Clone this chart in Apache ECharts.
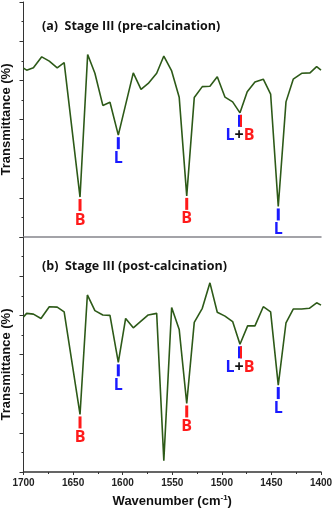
<!DOCTYPE html>
<html>
<head>
<meta charset="utf-8">
<script src="https://cdn.jsdelivr.net/npm/echarts@6/dist/echarts.min.js"></script>
<style>html,body{margin:0;padding:0;background:#fff;}#c{width:333px;height:511px;}</style>
</head>
<body>
<div id="c"></div>
<script>
// Panel (a) pre-calcination
const wnA = [1700,1696.8,1690,1681.6,1674,1666,1659,1643,1635.3,1628,1620,1612.8,1604.4,1589.3,1581.5,1574.2,1565.7,1558.5,1550.6,1543,1535.4,1527.8,1519.7,1512,1504.6,1496.8,1489.1,1481.7,1474.4,1466.6,1458.2,1450.8,1443.1,1435.3,1428,1419.5,1411.1,1404.4,1400];
const trA = [4.31,4.26,4.32,4.60,4.49,4.32,4.45,1.02,4.66,4.18,3.36,3.44,2.60,4.19,3.77,3.92,4.18,4.62,4.24,3.57,1.05,3.56,3.84,3.85,4.09,3.57,3.45,3.17,3.71,3.96,4.03,3.65,0.78,3.45,4.03,4.18,4.19,4.35,4.26];
// Panel (b) post-calcination
const wnB = [1700,1696.8,1690,1682.4,1674,1666,1659,1643,1635.6,1628,1620,1612.8,1604.4,1597,1589.3,1581.5,1574.2,1565.7,1558.5,1550.6,1543,1535.4,1527.8,1519.7,1512,1504.6,1496.8,1489.1,1481.7,1474,1466.6,1458.2,1450.8,1443.1,1435.3,1428,1419.5,1411.8,1404.4,1400];
const trB = [3.96,4.05,4.03,3.92,4.22,4.21,4.09,1.47,4.52,4.12,4.01,4.00,2.80,3.92,3.68,3.85,4.01,4.05,0.29,4.20,3.64,1.75,3.82,4.18,4.83,4.08,3.98,3.84,3.26,3.73,3.73,4.22,4.09,2.22,3.81,4.16,4.16,4.18,4.32,4.26];
// Band assignments (wavenumber, type)
const annA = [[1643,'B'],[1604.4,'L'],[1535.4,'B'],[1481.7,'LB'],[1443.1,'L']];
const annB = [[1643,'B'],[1604.4,'L'],[1535.4,'B'],[1481.7,'LB'],[1443.1,'L']];
const xTicks = [1700,1650,1600,1550,1500,1450,1400];
const titles = ['(a)  Stage III (pre-calcination)','(b)  Stage III (post-calcination)'];

const RED = '#ff1a1a', BLUE = '#1a1aff', GREEN = '#2d5a18';
function pairs(xs, ys){ return xs.map((x,i)=>[x,ys[i]]); }
function valAt(wn, xs, ys){ const i = xs.indexOf(wn); return ys[i]; }
const rich = {
  b:{color:RED,fontSize:16,fontWeight:'bold',fontFamily:'Open Sans',lineHeight:16},
  l:{color:BLUE,fontSize:16,fontWeight:'bold',fontFamily:'Open Sans',lineHeight:16},
  p:{color:'#111',fontSize:16,fontWeight:'bold',fontFamily:'Open Sans',lineHeight:16}
};
function annSeries(ann, xs, ys, gi){
  const single = ann.filter(a=>a[1]!=='LB').map(a=>[a[0], valAt(a[0],xs,ys), a[1]]);
  const both = ann.filter(a=>a[1]==='LB').map(a=>[a[0], valAt(a[0],xs,ys), a[1]]);
  const base = {type:'scatter', xAxisIndex:gi, yAxisIndex:gi, symbol:'rect', silent:true, z:5};
  return [
    Object.assign({}, base, {data: single, symbolSize:[3,12], symbolOffset:[0,8],
      itemStyle:{opacity:1, color:(p)=>p.data[2]==='B'?RED:BLUE},
      label:{show:true, position:'bottom', distance:1, formatter:(p)=>p.data[2]==='B'?'{b|B}':'{l|L}', rich:rich}}),
    Object.assign({}, base, {data: both, symbolSize:[4,12], symbolOffset:[0,8],
      itemStyle:{opacity:1, color:BLUE},
      label:{show:true, position:'bottom', distance:1, formatter:'{l|L}{p|+}{b|B}', rich:rich}}),
    Object.assign({}, base, {data: both, symbolSize:[2,12], symbolOffset:[1,8], z:6,
      itemStyle:{opacity:1, color:RED}, label:{show:false}})
  ];
}

const chart = echarts.init(document.getElementById('c'), null, {renderer:'canvas'});
const yAxisCommon = {
  type:'value', min:0, max:6, interval:1,
  name:'Transmittance (%)', nameLocation:'middle', nameGap:11,
  nameTextStyle:{fontFamily:'Liberation Sans', fontWeight:'bold', fontSize:13, color:'#111'},
  axisLine:{show:true, lineStyle:{color:'#333', width:1}},
  axisTick:{show:true, inside:false, length:4, lineStyle:{color:'#333'}},
  minorTick:{show:true, splitNumber:2, length:2, lineStyle:{color:'#333'}},
  axisLabel:{show:false}, splitLine:{show:false}
};
const option = {
  animation:false,
  backgroundColor:'#fff',
  title: titles.map((t,i)=>({text:t, left:37, top: i===0?15:255,
    textStyle:{fontFamily:'Open Sans', fontWeight:'bold', fontSize:12.5, color:'#111'}})),
  grid:[
    {left:23.5, right:12, top:2, height:235, containLabel:false, outerBoundsMode:'none'},
    {left:23.5, right:12, top:237, height:235, containLabel:false, outerBoundsMode:'none'}
  ],
  xAxis:[
    {gridIndex:0, type:'value', min:1400, max:1700, interval:50, inverse:true,
     axisLine:{show:true, onZero:false, lineStyle:{color:'#85858c', width:1.5}},
     axisTick:{show:false}, axisLabel:{show:false}, splitLine:{show:false}},
    {gridIndex:1, type:'value', min:1400, max:1700, interval:50, inverse:true,
     name:'Wavenumber (cm{sup|-1})', nameLocation:'middle', nameGap:22,
     nameTextStyle:{fontFamily:'Liberation Sans', fontWeight:'bold', fontSize:13, color:'#111',
       rich:{sup:{fontFamily:'Liberation Sans', fontWeight:'bold', fontSize:8, color:'#111', verticalAlign:'top', padding:[0,0,7,0]}}},
     axisLine:{show:true, onZero:false, lineStyle:{color:'#333', width:1.5}},
     axisTick:{show:true, length:3, lineStyle:{color:'#333'}},
     minorTick:{show:true, splitNumber:2, length:2, lineStyle:{color:'#333'}},
     axisLabel:{show:true, margin:6, fontFamily:'Liberation Sans', fontWeight:'bold', fontSize:10, color:'#222',
       customValues: xTicks, formatter:(v)=>String(v)},
     splitLine:{show:false}}
  ],
  yAxis:[
    Object.assign({gridIndex:0}, yAxisCommon),
    Object.assign({gridIndex:1}, yAxisCommon, {nameTextStyle:Object.assign({}, yAxisCommon.nameTextStyle, {padding:[0,20,0,0]})})
  ],
  series:[
    {type:'line', xAxisIndex:0, yAxisIndex:0, data:pairs(wnA,trA), symbol:'none', lineStyle:{color:GREEN, width:1.6}, z:3},
    {type:'line', xAxisIndex:1, yAxisIndex:1, data:pairs(wnB,trB), symbol:'none', lineStyle:{color:GREEN, width:1.6}, z:3}
  ].concat(annSeries(annA, wnA, trA, 0), annSeries(annB, wnB, trB, 1))
};
chart.setOption(option);
</script>
</body>
</html>
